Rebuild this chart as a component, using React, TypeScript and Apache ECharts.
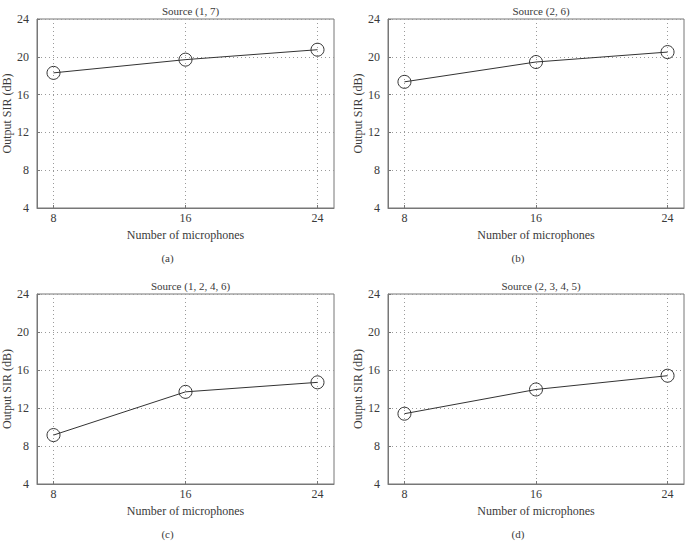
import React, { useEffect, useRef } from "react";
import * as echarts from "echarts";

// Number of microphones on the x axis
const micCounts = [8, 16, 24];
const xTicks = [8, 16, 24];
const yTicks = [4, 8, 12, 16, 20, 24];

// Output SIR (dB) for each source combination
const sirSource17 = [18.3, 19.7, 20.75];
const sirSource26 = [17.35, 19.45, 20.5];
const sirSource1246 = [9.15, 13.7, 14.7];
const sirSource2345 = [11.4, 13.95, 15.4];

const panelTitles = ["Source (1, 7)", "Source (2, 6)", "Source (1, 2, 4, 6)", "Source (2, 3, 4, 5)"];
const panelTags = ["(a)", "(b)", "(c)", "(d)"];
const panelSeries = [sirSource17, sirSource26, sirSource1246, sirSource2345];

const FONT = "'Liberation Serif', 'DejaVu Serif', serif";
const TEXT = "#3a3a3a";

// Grid boxes in pixels: [left, top, width, height]
const boxes = [
  [37, 19, 297, 189],
  [388, 19, 296, 189],
  [37, 294, 297, 190],
  [388, 294, 296, 190],
];

export default function App() {
  const ref = useRef<HTMLDivElement>(null);

  useEffect(() => {
    if (!ref.current) return;
    const chart = echarts.init(ref.current, null, { renderer: "svg" });

    const grids = boxes.map(([left, top, width, height]) => ({
      left,
      top,
      width,
      height,
      show: true,
      borderColor: "#777",
      borderWidth: 1,
      backgroundColor: "transparent",
    }));

    const dotted = { color: "#9a9a9a", width: 1, type: [1, 3] as number[] };

    const xAxes = boxes.map((_, i) => ({
      type: "value" as const,
      gridIndex: i,
      min: 7,
      max: 25,
      name: "Number of microphones",
      nameLocation: "middle" as const,
      nameGap: 21,
      nameTextStyle: { fontFamily: FONT, fontSize: 12, color: TEXT },
      axisLine: { show: true, lineStyle: { color: "#777" } },
      axisTick: { show: true, inside: true, length: 3, customValues: xTicks, lineStyle: { color: "#777" } },
      axisLabel: { customValues: xTicks, fontFamily: FONT, fontSize: 12, color: TEXT, margin: 4 },
      splitLine: { show: true, lineStyle: dotted },
    }));

    const yAxes = boxes.map((_, i) => ({
      type: "value" as const,
      gridIndex: i,
      min: yTicks[0],
      max: yTicks[yTicks.length - 1],
      interval: 4,
      name: "Output SIR (dB)",
      nameLocation: "middle" as const,
      nameGap: 23,
      nameTextStyle: { fontFamily: FONT, fontSize: 12, color: TEXT },
      axisLine: { show: true, lineStyle: { color: "#777" } },
      axisTick: { show: true, inside: true, length: 3, lineStyle: { color: "#777" } },
      axisLabel: { fontFamily: FONT, fontSize: 12, color: TEXT, margin: 8 },
      splitLine: { show: true, lineStyle: dotted },
    }));

    const series = panelSeries.map((vals, i) => ({
      type: "line" as const,
      xAxisIndex: i,
      yAxisIndex: i,
      data: micCounts.map((m, j) => [m, vals[j]]),
      symbol: "circle",
      symbolSize: 13,
      lineStyle: { color: "#333", width: 1 },
      itemStyle: { color: "rgba(255,255,255,0)", borderColor: "#333", borderWidth: 1 },
    }));

    const titles = boxes.map(([left, top, width], i) => ({
      text: panelTitles[i],
      left: left + width / 2,
      top: top - 19,
      textAlign: "center" as const,
      textStyle: { fontFamily: FONT, fontSize: 11, fontWeight: "normal" as const, color: TEXT },
    }));

    const tags = boxes.map(([left, top, width, height], i) => ({
      type: "text" as const,
      x: left + width / 2 - 18,
      y: top + height + 50,
      style: {
        text: panelTags[i],
        fontFamily: FONT,
        fontSize: 11,
        fill: TEXT,
        align: "center" as const,
        verticalAlign: "middle" as const,
      },
    }));

    chart.setOption({
      animation: false,
      backgroundColor: "#fff",
      title: titles,
      grid: grids,
      xAxis: xAxes,
      yAxis: yAxes,
      series,
      graphic: tags,
    });

    return () => chart.dispose();
  }, []);

  return (
    <div
      ref={ref}
      style={{ position: "fixed", left: 0, top: 0, width: 689, height: 549 }}
    />
  );
}
